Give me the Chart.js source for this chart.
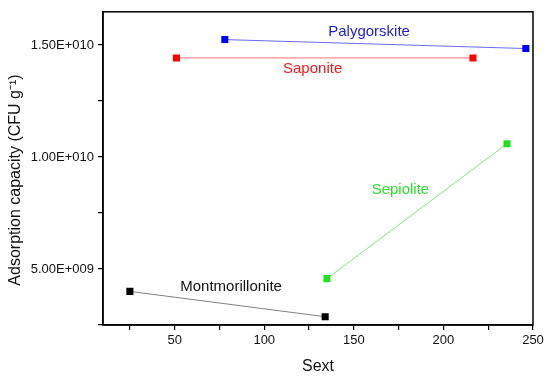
<!DOCTYPE html>
<html>
<head>
<meta charset="utf-8">
<script src="https://cdn.jsdelivr.net/npm/chart.js@4"></script>
<style>
  html, body { margin:0; padding:0; background:#fff; }
  #wrap { width:550px; height:380px; }
</style>
</head>
<body>
<div id="wrap"><canvas id="chart"></canvas></div>
<script>
// data
const montX = [25, 134],   montY = [4.0e9, 2.87e9];
const sepX  = [135, 235.5], sepY  = [4.57e9, 1.059e10];
const sapX  = [51, 216.5], sapY  = [1.442e10, 1.442e10];
const palX  = [78, 246],   palY  = [1.524e10, 1.484e10];

const yTicks = [2.5e9, 5e9, 7.5e9, 1e10, 1.25e10, 1.5e10];
const yTickLabels = ["", "5.00E+009", "", "1.00E+010", "", "1.50E+010"];
const xTicks = [25, 50, 75, 100, 125, 150, 175, 200, 225, 250];

const labelNames  = ["Palygorskite", "Saponite", "Sepiolite", "Montmorillonite"];
const labelX      = [158.5, 127, 176, 81.5];
const labelY      = [1.559e10, 1.392e10, 8.54e9, 4.2e9];
const labelColors = ["#1d1dd0", "#ee1c1c", "#2ee02e", "#111111"];

const yTitle = "Adsorption capacity (CFU g\u207B\u00B9)";

const pts = (xs, ys) => xs.map((x,i)=>({ x, y: ys[i] }));

const FONT = "'Liberation Sans', Arial, sans-serif";

// frame around plot, text labels, y title
const framePlugin = {
  id: "frame",
  afterDatasetsDraw(chart){
    const { ctx, chartArea: a, scales } = chart;
    ctx.save();
    ctx.strokeStyle = "#000"; ctx.lineWidth = 1.5;
    ctx.strokeRect(a.left, a.top, a.right - a.left, a.bottom - a.top);
    ctx.font = "15px " + FONT;
    ctx.textAlign = "center"; ctx.textBaseline = "middle";
    labelNames.forEach((t,i)=>{
      ctx.fillStyle = labelColors[i];
      ctx.fillText(t, scales.x.getPixelForValue(labelX[i]), scales.y.getPixelForValue(labelY[i]));
    });
    // y title
    ctx.translate(16, 180);
    ctx.rotate(-Math.PI/2);
    ctx.fillStyle = "#111";
    ctx.font = "16px " + FONT;
    ctx.fillText(yTitle, 0, 0);
    ctx.restore();
  }
};

const ds = (label, xs, ys, line, pt) => ({
  label, data: pts(xs, ys), showLine: true,
  borderColor: line, borderWidth: 1,
  pointStyle: "rect", pointRadius: 5, pointBackgroundColor: pt, pointBorderColor: pt, pointBorderWidth: 0
});

new Chart(document.getElementById("chart"), {
  type: "scatter",
  data: { datasets: [
    ds("Montmorillonite", montX, montY, "#808080", "#000000"),
    ds("Sepiolite", sepX, sepY, "#7ee87e", "#1ee01e"),
    ds("Saponite", sapX, sapY, "#ff7070", "#ff0000"),
    ds("Palygorskite", palX, palY, "#6a6aff", "#0000ff")
  ]},
  options: {
    responsive: true, maintainAspectRatio: false, animation: false,
    layout: { padding: { left: 0, right: 17, top: 10, bottom: 0 } },
    plugins: { legend: { display: false }, tooltip: { enabled: false } },
    scales: {
      x: {
        type: "linear", min: 10, max: 250,
        afterBuildTicks: s => { s.ticks = xTicks.map(v=>({ value: v })); },
        afterFit: s => { s.height = 55; },
        grid: { display: true, drawOnChartArea: false, drawTicks: true, tickLength: 5, color: "#000", lineWidth: 1.2 },
        border: { display: true, color: "#000", width: 1.5 },
        ticks: {
          color: "#111", font: { family: FONT, size: 13 }, padding: 3, maxRotation: 0, autoSkip: false,
          callback: v => (v % 50 === 0 ? String(v) : "")
        },
        title: { display: true, text: "Sext", color: "#111", font: { family: FONT, size: 16 }, padding: { top: 2 } }
      },
      y: {
        type: "linear", min: 2.5e9, max: 1.648e10,
        afterBuildTicks: s => { s.ticks = yTicks.map(v=>({ value: v })); },
        afterFit: s => { s.width = 103; },
        grid: { display: true, drawOnChartArea: false, drawTicks: true, tickLength: 5, color: "#000", lineWidth: 1.2 },
        border: { display: true, color: "#000", width: 1.5 },
        ticks: {
          color: "#111", font: { family: FONT, size: 13 }, padding: 4, autoSkip: false,
          callback: v => yTickLabels[yTicks.indexOf(v)] ?? ""
        },
        title: { display: false }
      }
    }
  },
  plugins: [framePlugin]
});
</script>
</body>
</html>
